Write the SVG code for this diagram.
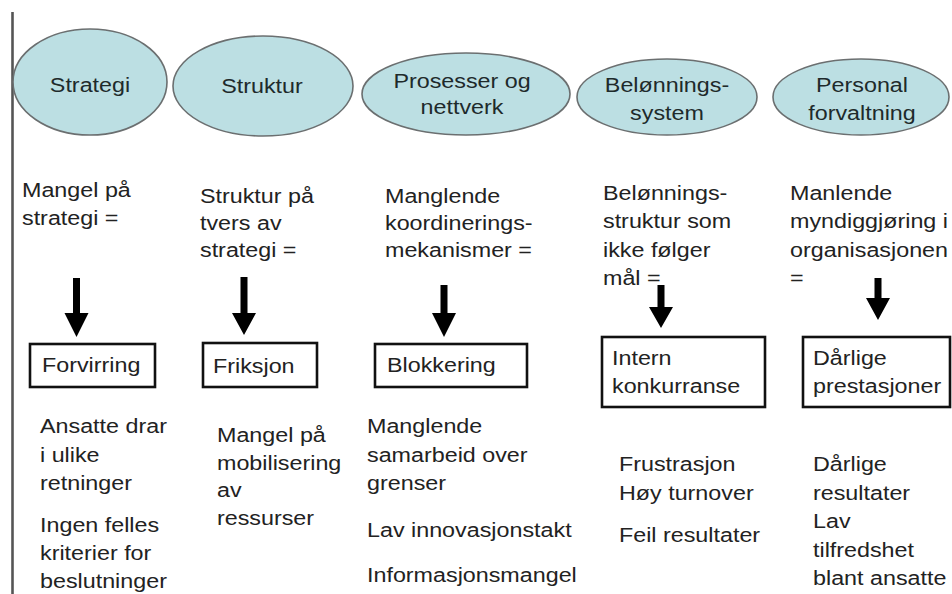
<svg xmlns="http://www.w3.org/2000/svg" width="952" height="594" viewBox="0 0 952 594">
  <style>
    .oval { fill: #bcdfe3; stroke: #6b6f70; stroke-width: 1.6; }
    .box { fill: #ffffff; stroke: #111111; stroke-width: 2.6; }
    .t { font-family: "Liberation Sans", Arial, sans-serif; font-size: 21px; fill: #222222; }
    .h { font-family: "Liberation Sans", Arial, sans-serif; font-size: 21px; fill: #1e2a2b; text-anchor: middle; }
    .arrow { fill: #000000; }
  </style>
  <rect width="952" height="594" fill="#ffffff"/>
  <!-- left margin rule -->
  <line x1="12.5" y1="12" x2="12.5" y2="594" stroke="#555555" stroke-width="2.6"/>

  <!-- column 1: Strategi -->
  <g id="strategi">
    <ellipse class="oval" cx="90" cy="82" rx="77" ry="53"/>
    <text class="h" transform="translate(90 0) scale(1.11 1)"><tspan x="0" y="92">Strategi</tspan></text>
    <text class="t" transform="translate(22 0) scale(1.11 1)"><tspan x="0" y="197">Mangel på</tspan><tspan x="0" y="225">strategi =</tspan></text>
  </g>
  <g id="forvirring">
    <rect class="box" x="30" y="344" width="125" height="43"/>
    <text class="t" transform="translate(42 0) scale(1.11 1)"><tspan x="0" y="372">Forvirring</tspan></text>
  </g>
  <g id="forvirring-effekter">
    <text class="t" transform="translate(40 0) scale(1.11 1)"><tspan x="0" y="433">Ansatte drar</tspan><tspan x="0" y="462">i ulike</tspan><tspan x="0" y="490">retninger</tspan><tspan x="0" y="532">Ingen felles</tspan><tspan x="0" y="560">kriterier for</tspan><tspan x="0" y="588">beslutninger</tspan></text>
  </g>

  <!-- column 2: Struktur -->
  <g id="struktur">
    <ellipse class="oval" cx="263" cy="86" rx="90" ry="50"/>
    <text class="h" transform="translate(262 0) scale(1.11 1)"><tspan x="0" y="93">Struktur</tspan></text>
    <text class="t" transform="translate(200 0) scale(1.11 1)"><tspan x="0" y="203">Struktur på</tspan><tspan x="0" y="230">tvers av</tspan><tspan x="0" y="257">strategi =</tspan></text>
  </g>
  <g id="friksjon">
    <rect class="box" x="203" y="343" width="114" height="44"/>
    <text class="t" transform="translate(213 0) scale(1.11 1)"><tspan x="0" y="373">Friksjon</tspan></text>
  </g>
  <g id="friksjon-effekter">
    <text class="t" transform="translate(217 0) scale(1.11 1)"><tspan x="0" y="442">Mangel på</tspan><tspan x="0" y="470">mobilisering</tspan><tspan x="0" y="497">av</tspan><tspan x="0" y="525">ressurser</tspan></text>
  </g>

  <!-- column 3: Prosesser og nettverk -->
  <g id="prosesser">
    <ellipse class="oval" cx="466" cy="94" rx="104" ry="41"/>
    <text class="h" transform="translate(462 0) scale(1.11 1)"><tspan x="0" y="88">Prosesser og</tspan><tspan x="0" y="114">nettverk</tspan></text>
    <text class="t" transform="translate(385 0) scale(1.11 1)"><tspan x="0" y="203">Manglende</tspan><tspan x="0" y="230">koordinerings-</tspan><tspan x="0" y="257">mekanismer =</tspan></text>
  </g>
  <g id="blokkering">
    <rect class="box" x="375" y="344" width="152" height="43"/>
    <text class="t" transform="translate(387 0) scale(1.11 1)"><tspan x="0" y="372">Blokkering</tspan></text>
  </g>
  <g id="blokkering-effekter">
    <text class="t" transform="translate(367 0) scale(1.11 1)"><tspan x="0" y="433">Manglende</tspan><tspan x="0" y="462">samarbeid over</tspan><tspan x="0" y="490">grenser</tspan><tspan x="0" y="537">Lav innovasjonstakt</tspan><tspan x="0" y="582">Informasjonsmangel</tspan></text>
  </g>

  <!-- column 4: Belønningssystem -->
  <g id="belonning">
    <ellipse class="oval" cx="667" cy="97" rx="90" ry="38"/>
    <text class="h" transform="translate(667 0) scale(1.11 1)"><tspan x="0" y="92">Belønnings-</tspan><tspan x="0" y="120">system</tspan></text>
    <text class="t" transform="translate(603 0) scale(1.11 1)"><tspan x="0" y="200">Belønnings-</tspan><tspan x="0" y="228">struktur som</tspan><tspan x="0" y="257">ikke følger</tspan><tspan x="0" y="285">mål =</tspan></text>
  </g>
  <g id="konkurranse">
    <rect class="box" x="602" y="337" width="163" height="70"/>
    <text class="t" transform="translate(612 0) scale(1.11 1)"><tspan x="0" y="365">Intern</tspan><tspan x="0" y="393">konkurranse</tspan></text>
  </g>
  <g id="konkurranse-effekter">
    <text class="t" transform="translate(619 0) scale(1.11 1)"><tspan x="0" y="471">Frustrasjon</tspan><tspan x="0" y="500">Høy turnover</tspan><tspan x="0" y="542">Feil resultater</tspan></text>
  </g>

  <!-- column 5: Personalforvaltning -->
  <g id="personal">
    <ellipse class="oval" cx="861" cy="97" rx="88" ry="38"/>
    <text class="h" transform="translate(862 0) scale(1.11 1)"><tspan x="0" y="92">Personal</tspan><tspan x="0" y="120">forvaltning</tspan></text>
    <text class="t" transform="translate(790 0) scale(1.11 1)"><tspan x="0" y="200">Manlende</tspan><tspan x="0" y="228">myndiggjøring i</tspan><tspan x="0" y="257">organisasjonen</tspan><tspan x="0" y="285">=</tspan></text>
  </g>
  <g id="prestasjoner">
    <rect class="box" x="803" y="337" width="147" height="70"/>
    <text class="t" transform="translate(813 0) scale(1.11 1)"><tspan x="0" y="365">Dårlige</tspan><tspan x="0" y="393">prestasjoner</tspan></text>
  </g>
  <g id="prestasjoner-effekter">
    <text class="t" transform="translate(813 0) scale(1.11 1)"><tspan x="0" y="471">Dårlige</tspan><tspan x="0" y="500">resultater</tspan><tspan x="0" y="528">Lav</tspan><tspan x="0" y="557">tilfredshet</tspan><tspan x="0" y="585">blant ansatte</tspan></text>
  </g>

  <!-- connectors: block arrows from cause to effect -->
  <g id="connectors">
    <path class="arrow" d="M73 278 H80 V313 H88.5 L76.5 337 L64.5 313 H73 Z"/>
    <path class="arrow" d="M240.5 277 H247.5 V313 H256 L244 335 L232 313 H240.5 Z"/>
    <path class="arrow" d="M440.5 285 H447.5 V313 H456 L444 337 L432 313 H440.5 Z"/>
    <path class="arrow" d="M657.5 285 H664.5 V307 H673 L661 328 L649 307 H657.5 Z"/>
    <path class="arrow" d="M874.5 278 H881.5 V298 H890 L878 320 L866 298 H874.5 Z"/>
  </g>
</svg>
